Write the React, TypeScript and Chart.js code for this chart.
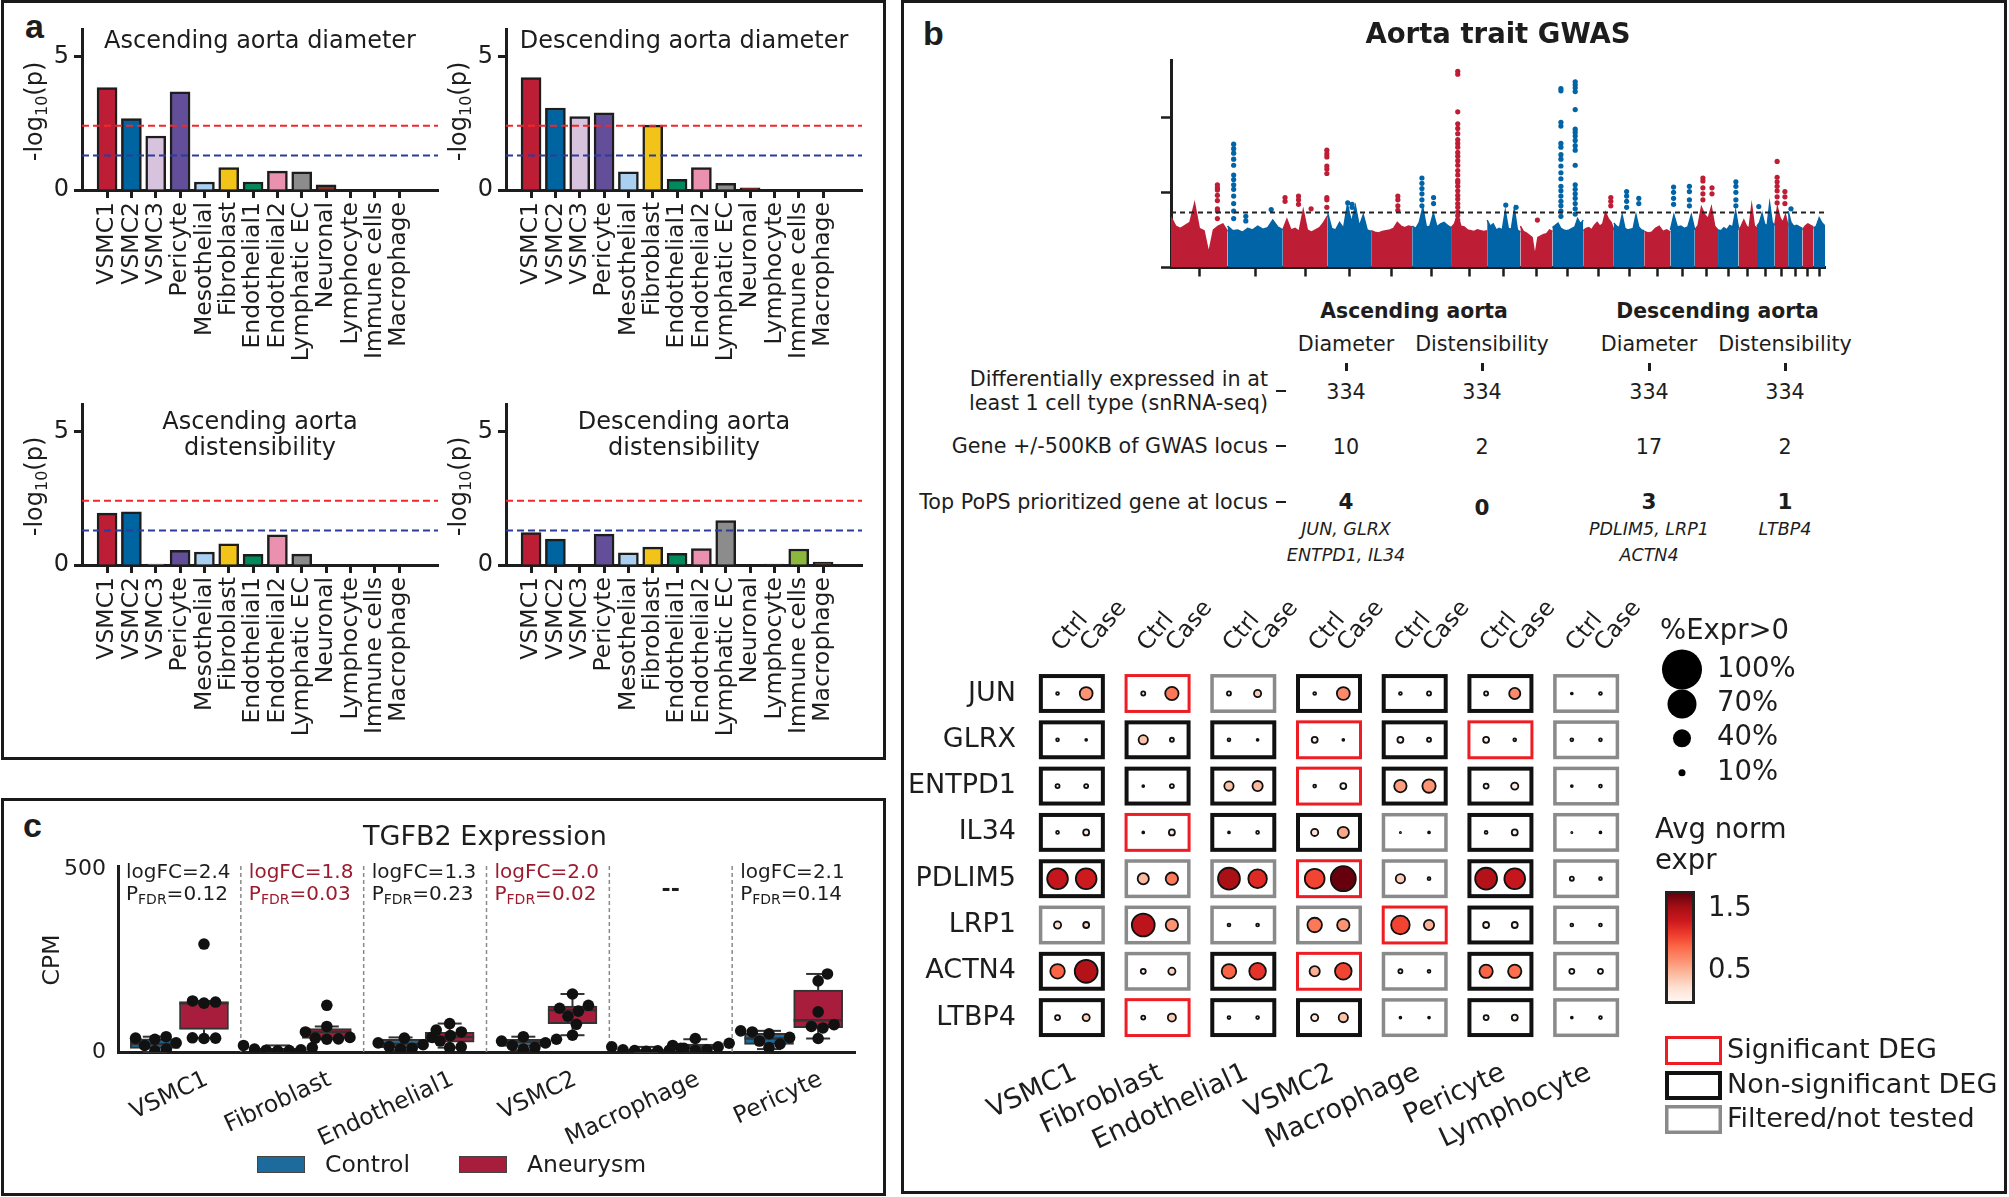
import React, { useEffect, useRef } from 'react';
import { Chart, registerables } from 'chart.js';

Chart.register(...registerables);

const FONT = '"DejaVu Sans", Verdana, sans-serif';
const LETTER_FONT = '"Liberation Sans", Arial, sans-serif';
const INK = '#1d1d1d';
Chart.defaults.font.family = FONT;
Chart.defaults.color = INK;

/* ======================= DATA ======================= */
// ---- Panel a: cell-type enrichment, -log10(p)
const CELL_TYPES = ['VSMC1', 'VSMC2', 'VSMC3', 'Pericyte', 'Mesothelial', 'Fibroblast', 'Endothelial1', 'Endothelial2', 'Lymphatic EC', 'Neuronal', 'Lymphocyte', 'Immune cells', 'Macrophage'];
const CELL_COLORS = ['#BE1E35', '#0064A1', '#D8C3DF', '#634E9A', '#A9D0F0', '#F2C41A', '#00895C', '#E991AE', '#8C8C8C', '#8B2D24', '#4A4A4A', '#8CB83E', '#5A3F2A'];
const ASC_DIAMETER = [3.85, 2.68, 2.03, 3.69, 0.30, 0.84, 0.30, 0.71, 0.68, 0.19, 0, 0, 0];
const DESC_DIAMETER = [4.22, 3.08, 2.76, 2.90, 0.68, 2.44, 0.40, 0.84, 0.25, 0.08, 0, 0, 0];
const ASC_DISTENSIBILITY = [1.95, 2.00, 0.03, 0.55, 0.49, 0.80, 0.40, 1.13, 0.41, 0, 0, 0, 0];
const DESC_DISTENSIBILITY = [1.22, 0.97, 0, 1.16, 0.46, 0.67, 0.44, 0.62, 1.67, 0, 0.03, 0.60, 0.11];
const BONFERRONI_LOGP = 2.41;
const NOMINAL_LOGP = 1.30;
const A_Y_TICKS = [0, 5];

// ---- Panel b: Manhattan plot
const CHR_LENGTHS_MB = [249.3, 243.2, 198.0, 191.2, 180.9, 171.1, 159.1, 146.4, 141.2, 135.5, 135.0, 133.9, 115.2, 107.3, 102.5, 90.4, 81.2, 78.1, 59.1, 63.0, 48.1, 51.3];
const CHR_ENVELOPE = [
  [6.7, 5.5, 5.2, 5.6, 6.0, 8.5, 5.2, 4.9, 1.9, 5.0, 5.5, 5.8, 4.8],
  [5.5, 4.9, 5.0, 4.7, 5.2, 5.0, 5.5, 5.1, 5.3, 6.3, 5.4, 5.0],
  [5.0, 6.4, 5.0, 5.2, 4.8, 7.6, 5.0, 4.7, 5.0, 5.3, 6.0, 6.9],
  [7.2, 5.2, 5.0, 6.0, 5.2, 8.4, 6.0, 8.2, 5.5, 7.0, 5.0, 4.8],
  [4.9, 4.7, 4.6, 4.8, 4.9, 5.0, 5.2, 6.0, 5.5, 5.3, 5.5, 5.4],
  [5.5, 5.2, 6.0, 8.0, 5.4, 5.5, 7.2, 5.4, 5.8, 6.0, 5.6, 5.3],
  [5.3, 5.8, 7.0, 5.5, 5.4, 5.0, 4.9, 4.8, 5.0, 4.9, 4.8, 4.9],
  [6.3, 5.5, 5.8, 5.0, 5.2, 5.0, 7.5, 5.2, 5.1, 7.8, 5.0, 4.7],
  [5.5, 4.8, 4.6, 4.3, 4.0, 1.5, 4.0, 4.2, 4.4, 4.5, 5.0, 4.8],
  [5.3, 5.6, 5.9, 5.2, 5.0, 4.9, 5.0, 5.2, 5.4, 6.5, 5.8, 6.3],
  [4.9, 5.2, 5.3, 5.0, 5.6, 6.0, 5.5, 5.8, 7.3, 6.5, 6.0, 5.0],
  [5.9, 5.5, 5.3, 7.0, 5.2, 5.0, 5.1, 5.2, 7.0, 5.4, 5.0, 4.9],
  [4.8, 4.6, 4.7, 5.2, 5.5, 4.8, 5.0, 4.7],
  [5.0, 7.0, 5.4, 5.5, 5.2, 5.4, 7.0, 5.0],
  [5.0, 5.6, 8.0, 7.0, 6.5, 8.0, 5.5, 5.0],
  [5.0, 4.9, 5.3, 5.0, 5.6, 5.4, 7.5, 5.2],
  [5.0, 5.5, 6.3, 5.5, 5.2, 8.2, 5.5, 5.3],
  [5.5, 6.0, 7.2, 5.8, 5.5, 8.5, 6.0, 5.6],
  [5.6, 8.0, 6.6, 6.0, 7.0, 5.5],
  [7.5, 6.0, 5.5, 5.6, 5.4, 5.2],
  [5.0, 5.5, 5.8, 5.6, 5.4],
  [5.2, 5.5, 6.6, 5.9, 5.5],
];
const GWAS_PEAKS = [
  { chr: 1, pos: 0.82, logp: [11.0, 10.6, 10.3, 9.6, 8.9, 7.8, 7.5, 6.5] },
  { chr: 2, pos: 0.11, logp: [16.4, 15.8, 15.2, 14.4, 13.6, 12.3, 11.7, 11.0, 10.4, 9.5, 8.5, 7.5, 6.5] },
  { chr: 2, pos: 0.33, logp: [6.8, 6.2] },
  { chr: 2, pos: 0.79, logp: [7.7] },
  { chr: 3, pos: 0.05, logp: [9.3, 8.8] },
  { chr: 3, pos: 0.35, logp: [9.5, 9.0, 8.4] },
  { chr: 3, pos: 0.63, logp: [7.8] },
  { chr: 3, pos: 0.98, logp: [15.6, 15.1, 14.7, 13.5, 13.1, 12.5, 9.3, 9.0, 8.0] },
  { chr: 4, pos: 0.46, logp: [8.6] },
  { chr: 4, pos: 0.56, logp: [8.4, 8.0] },
  { chr: 5, pos: 0.65, logp: [9.5, 9.0, 8.2, 7.6] },
  { chr: 6, pos: 0.25, logp: [11.9, 11.2, 10.5, 9.8, 9.0, 8.2] },
  { chr: 6, pos: 0.55, logp: [9.3, 8.5] },
  { chr: 7, pos: 0.185, logp: [26.1, 25.7, 20.7, 19.1, 18.5, 17.8, 17.0, 16.5, 16.0, 15.3, 14.8, 14.2, 13.6, 12.9, 12.3, 11.6, 11.3, 10.8, 10.2, 9.6, 9.1, 8.5, 8.0, 7.4, 6.9, 6.3] },
  { chr: 8, pos: 0.56, logp: [8.3] },
  { chr: 8, pos: 0.87, logp: [8.0] },
  { chr: 9, pos: 0.53, logp: [6.3] },
  { chr: 10, pos: 0.275, logp: [23.8, 23.5, 19.3, 18.8, 16.5, 16.0, 15.0, 14.4, 13.5, 12.6, 11.8, 10.8, 10.2, 9.5, 8.8, 8.2, 7.5, 6.8] },
  { chr: 10, pos: 0.74, logp: [24.7, 24.3, 23.9, 23.4, 21.0, 18.4, 18.0, 17.5, 16.9, 16.2, 15.6, 13.6, 11.0, 10.4, 9.8, 9.2, 8.5, 7.8, 7.1] },
  { chr: 11, pos: 0.90, logp: [9.3, 8.8, 8.2] },
  { chr: 12, pos: 0.42, logp: [10.1, 9.5, 8.8, 8.0] },
  { chr: 12, pos: 0.82, logp: [9.2, 8.5] },
  { chr: 14, pos: 0.13, logp: [10.7, 10.0, 9.2, 8.4] },
  { chr: 14, pos: 0.78, logp: [10.8, 10.1, 9.0, 8.2] },
  { chr: 15, pos: 0.35, logp: [11.9, 11.5, 10.6, 9.8, 9.0] },
  { chr: 15, pos: 0.74, logp: [10.6, 9.8] },
  { chr: 16, pos: 0.87, logp: [11.4, 10.8, 10.0, 9.0, 8.2] },
  { chr: 18, pos: 0.10, logp: [8.1] },
  { chr: 19, pos: 0.18, logp: [14.1, 12.0, 11.4, 10.8, 10.2, 9.4, 8.6] },
  { chr: 19, pos: 0.76, logp: [10.1, 9.4, 8.5] },
  { chr: 20, pos: 0.20, logp: [7.8] },
];
const GWAS_THRESHOLD = 7.3;
const GWAS_Y_TICKS = [0, 10, 20];
const GWAS_Y_MAX = 27.5;

// ---- Panel b: table
const TABLE_GROUPS = ['Ascending aorta', 'Descending aorta'];
const TABLE_TRAITS = ['Diameter', 'Distensibility', 'Diameter', 'Distensibility'];
const TABLE_ROW_LABELS = [['Differentially expressed in at', 'least 1 cell type (snRNA-seq)'], ['Gene +/-500KB of GWAS locus'], ['Top PoPS prioritized gene at locus']];
const DE_GENE_COUNTS = [334, 334, 334, 334];
const LOCUS_GENE_COUNTS = [10, 2, 17, 2];
const POPS_GENE_COUNTS = [4, 0, 3, 1];
const POPS_GENES = [['JUN, GLRX', 'ENTPD1, IL34'], [], ['PDLIM5, LRP1', 'ACTN4'], ['LTBP4']];

// ---- Panel b: dot plot
const DOT_CELLS = ['VSMC1', 'Fibroblast', 'Endothelial1', 'VSMC2', 'Macrophage', 'Pericyte', 'Lymphocyte'];
const DOT_GENES = ['JUN', 'GLRX', 'ENTPD1', 'IL34', 'PDLIM5', 'LRP1', 'ACTN4', 'LTBP4'];
const GROUP_LABELS = ['Ctrl', 'Case'];
const PCT_CTRL = [
  [7, 12, 12, 7, 7, 12, 3],
  [7, 34, 7, 20, 20, 20, 7],
  [12, 3, 34, 7, 47, 16, 3],
  [7, 3, 3, 25, 0, 7, 0],
  [82, 42, 87, 78, 34, 87, 12],
  [25, 91, 7, 56, 73, 20, 7],
  [56, 16, 56, 38, 12, 51, 16],
  [16, 12, 7, 25, 3, 16, 3],
];
const PCT_CASE = [
  [49, 51, 25, 49, 12, 42, 7],
  [3, 12, 3, 3, 12, 7, 7],
  [12, 12, 38, 20, 51, 25, 7],
  [20, 20, 7, 42, 3, 20, 3],
  [82, 47, 73, 100, 7, 82, 7],
  [20, 47, 7, 47, 38, 20, 7],
  [91, 25, 65, 65, 7, 51, 16],
  [25, 29, 7, 34, 3, 20, 7],
];
const EXPR_CTRL = [
  [0.1, 0.1, 0.1, 0.1, 0.1, 0.1, 0.1],
  [0.1, 0.4, 0.1, 0.05, 0.05, 0.05, 0.1],
  [0.1, 0.1, 0.4, 0.1, 0.6, 0.05, 0.1],
  [0.1, 0.1, 0.1, 0.2, 0.1, 0.1, 0.1],
  [1.35, 0.45, 1.5, 1.05, 0.35, 1.45, 0.1],
  [0.2, 1.4, 0.1, 0.8, 1.05, 0.05, 0.1],
  [0.9, 0.05, 0.9, 0.5, 0.1, 0.9, 0.05],
  [0.05, 0.1, 0.1, 0.15, 0.1, 0.05, 0.1],
];
const EXPR_CASE = [
  [0.65, 0.8, 0.35, 0.7, 0.05, 0.7, 0.1],
  [0.1, 0.1, 0.1, 0.1, 0.1, 0.1, 0.1],
  [0.1, 0.1, 0.45, 0.05, 0.65, 0.1, 0.1],
  [0.1, 0.1, 0.1, 0.55, 0.1, 0.05, 0.1],
  [1.3, 0.8, 1.2, 1.75, 0.1, 1.35, 0.1],
  [0.3, 0.65, 0.1, 0.65, 0.5, 0.05, 0.1],
  [1.45, 0.3, 1.15, 1.05, 0.1, 0.85, 0.05],
  [0.3, 0.35, 0.1, 0.4, 0.1, 0.1, 0.1],
];
// S = significant DEG, N = non-significant DEG, F = filtered / not tested
const DEG_STATUS = [
  ['N', 'S', 'F', 'N', 'N', 'N', 'F'],
  ['N', 'N', 'N', 'S', 'N', 'S', 'F'],
  ['N', 'N', 'N', 'S', 'N', 'N', 'F'],
  ['N', 'S', 'N', 'N', 'F', 'N', 'F'],
  ['N', 'F', 'F', 'S', 'F', 'N', 'F'],
  ['F', 'F', 'F', 'F', 'S', 'N', 'F'],
  ['N', 'F', 'N', 'S', 'F', 'N', 'F'],
  ['N', 'S', 'N', 'N', 'F', 'N', 'F'],
];
const SIZE_LEGEND_PCTS = [100, 70, 40, 10];
const COLORBAR_TICKS = [1.5, 0.5];
const EXPR_MAX = 1.75;
const STATUS_LEGEND = [['S', 'Significant DEG'], ['N', 'Non-significant DEG'], ['F', 'Filtered/not tested']];

// ---- Panel c: TGFB2 box plots (CPM)
const BOX_GROUPS = ['VSMC1', 'Fibroblast', 'Endothelial1', 'VSMC2', 'Macrophage', 'Pericyte'];
const CTRL_Q1 = [10, 4, 12, 15, 2, 21];
const CTRL_MED = [22, 6, 22, 28, 4, 37];
const CTRL_Q3 = [36, 10, 35, 35, 6, 51];
const CTRL_LO = [0, 2, 5, 5, 0, 8];
const CTRL_HI = [42, 18, 40, 42, 14, 58];
const CTRL_POINTS = [[42, 38, 35, 25, 18, 8, 3], [18, 12, 8, 6, 5, 4, 3], [40, 38, 25, 20, 15, 10, 8], [42, 35, 30, 25, 18, 12, 8], [14, 10, 6, 5, 4, 3, 2], [58, 55, 50, 40, 30, 22, 12]];
const ANEU_Q1 = [62, 37, 27, 78, 8, 67];
const ANEU_MED = [134, 55, 41, 115, 14, 87];
const ANEU_Q3 = [138, 64, 54, 126, 22, 170];
const ANEU_LO = [38, 35, 12, 46, 2, 37];
const ANEU_HI = [140, 70, 78, 159, 35, 214];
const ANEU_POINTS = [[296, 140, 137, 134, 39, 38, 37], [128, 70, 55, 40, 38, 36, 35], [78, 60, 55, 45, 30, 14, 12], [159, 128, 120, 112, 98, 76, 46], [37, 24, 18, 14, 10, 6, 4], [214, 195, 110, 75, 70, 66, 37]];
const LOGFC = ['2.4', '1.8', '1.3', '2.0', null, '2.1'];
const PFDR = ['0.12', '0.03', '0.23', '0.02', null, '0.14'];
const FDR_SIGNIFICANT = [false, true, false, true, false, false];
const C_Y_TICKS = [0, 500];
const C_Y_MAX = 510;

/* ======================= HELPERS ======================= */
const REDS = ['#fff5f0', '#fee0d2', '#fcbba1', '#fc9272', '#fb6a4a', '#ef3b2c', '#cb181d', '#a50f15', '#67000d'];
function hexToRgb(h: string) { return [parseInt(h.slice(1, 3), 16), parseInt(h.slice(3, 5), 16), parseInt(h.slice(5, 7), 16)]; }
function reds(v: number) {
  const t = Math.max(0, Math.min(1, v / EXPR_MAX)) * (REDS.length - 1);
  const i = Math.min(REDS.length - 2, Math.floor(t));
  const f = t - i;
  const a = hexToRgb(REDS[i]), b = hexToRgb(REDS[i + 1]);
  const c = a.map((x, k) => Math.round(x + (b[k] - x) * f));
  return `rgb(${c[0]},${c[1]},${c[2]})`;
}
const pctToRadius = (p: number) => 0.6 + 0.119 * p;
const legendPctToRadius = (p: number) => 1.7 + 0.183 * p;

function swarm(values: number[], pxPerUnit: number, diam: number) {
  const order = values.map((_, i) => i).sort((a, b) => values[a] - values[b]);
  const placed: { x: number; y: number }[] = [];
  const res = new Array(values.length).fill(0);
  for (const idx of order) {
    const y = values[idx] * pxPerUnit;
    const cands = [0];
    for (const p of placed) {
      const dy = Math.abs(p.y - y);
      if (dy < diam) {
        const dx = Math.sqrt(diam * diam - dy * dy);
        cands.push(p.x + dx + 0.01, p.x - dx - 0.01);
      }
    }
    cands.sort((a, b) => Math.abs(a) - Math.abs(b));
    let chosen = 0;
    for (const c of cands) {
      if (placed.every((p) => Math.hypot(p.x - c, p.y - y) >= diam - 0.001)) { chosen = c; break; }
    }
    placed.push({ x: chosen, y });
    res[idx] = chosen;
  }
  return res;
}

function drawParts(ctx: any, parts: { t: string; sub?: boolean }[], x: number, y: number, size: number, subSize: number, align: string) {
  const big = `${size}px ${FONT}`, small = `${subSize}px ${FONT}`;
  let total = 0;
  parts.forEach((p) => { ctx.font = p.sub ? small : big; total += ctx.measureText(p.t).width; });
  let cx = align === 'center' ? x - total / 2 : x;
  ctx.textAlign = 'left';
  ctx.textBaseline = 'middle';
  parts.forEach((p) => {
    ctx.font = p.sub ? small : big;
    ctx.fillText(p.t, cx, p.sub ? y + size * 0.28 : y);
    cx += ctx.measureText(p.t).width;
  });
}

function drawLogTitle(ctx: any, x: number, y: number) {
  ctx.save();
  ctx.translate(x, y);
  ctx.rotate(-Math.PI / 2);
  ctx.fillStyle = INK;
  drawParts(ctx, [{ t: '-log' }, { t: '10', sub: true }, { t: '(p)' }], 0, 0, 24, 16, 'center');
  ctx.restore();
}

/* ======================= CONFIGS ======================= */
const A_X_MIN = -1.03, A_X_MAX = 13.6, A_Y_MAX = 6.05;

function barConfig(values: number[], titleLines: string[], titleOffsets: number[]) {
  const thr = (v: number, color: string) => ({
    type: 'line', data: [{ x: A_X_MIN, y: v }, { x: A_X_MAX, y: v }],
    borderColor: color, borderWidth: 2, borderDash: [7, 4], pointRadius: 0, order: 0,
  });
  const axisGrid = { drawOnChartArea: false, offset: false, tickLength: 8, tickWidth: 3, tickColor: INK };
  return {
    type: 'bar',
    data: {
      datasets: [
        thr(BONFERRONI_LOGP, '#F0282C'),
        thr(NOMINAL_LOGP, '#2B3C9C'),
        { type: 'bar', data: values.map((v, i) => ({ x: i, y: v })), backgroundColor: CELL_COLORS, borderColor: INK, borderWidth: 2.5, barThickness: 20, order: 1 },
      ],
    },
    options: {
      responsive: false, animation: false, devicePixelRatio: 1, events: [],
      layout: { padding: { top: 29, right: 12, left: 0, bottom: 0 } },
      plugins: { legend: { display: false }, tooltip: { enabled: false } },
      scales: {
        x: {
          type: 'linear', min: A_X_MIN, max: A_X_MAX, offset: false,
          afterFit: (s: any) => { s.height = 190; },
          afterBuildTicks: (s: any) => { s.ticks = CELL_TYPES.map((_, i) => ({ value: i })); },
          ticks: { autoSkip: false, minRotation: 90, maxRotation: 90, padding: 4, font: { size: 23.5 }, color: INK, callback: (v: any) => CELL_TYPES[v] ?? '' },
          grid: axisGrid, border: { width: 3, color: INK },
        },
        y: {
          min: 0, max: A_Y_MAX,
          afterFit: (s: any) => { s.width = 82; },
          afterBuildTicks: (s: any) => { s.ticks = A_Y_TICKS.map((v) => ({ value: v })); },
          ticks: { padding: 5, font: { size: 24 }, color: INK },
          grid: axisGrid, border: { width: 3, color: INK },
        },
      },
    },
    plugins: [{
      id: 'panelText',
      afterDraw(chart: any) {
        const { ctx, chartArea, scales } = chart;
        ctx.save();
        ctx.fillStyle = INK;
        ctx.font = `24px ${FONT}`;
        ctx.textAlign = 'center';
        ctx.textBaseline = 'middle';
        const cx = (chartArea.left + chartArea.right) / 2;
        titleLines.forEach((t, i) => ctx.fillText(t, cx, chartArea.top + titleOffsets[i]));
        ctx.restore();
        drawLogTitle(ctx, chartArea.left - 46, scales.y.getPixelForValue(2.95));
      },
    }],
  };
}

function manhattanConfig() {
  const starts: number[] = [];
  let acc = 0;
  CHR_LENGTHS_MB.forEach((l) => { starts.push(acc); acc += l; });
  const total = acc;
  const RED = '#BE1E35', BLUE = '#0064A6';
  const colorOf = (k: number) => (k % 2 === 0 ? RED : BLUE);
  const areaSets = CHR_ENVELOPE.map((env, k) => ({
    type: 'line',
    data: env.map((v, j) => ({ x: starts[k] + CHR_LENGTHS_MB[k] * (j / (env.length - 1)), y: v })),
    fill: 'origin', borderColor: colorOf(k), backgroundColor: colorOf(k), borderWidth: 1.5, pointRadius: 0, tension: 0, order: 3,
  }));
  const peakPts: any[] = [];
  const peakCols: string[] = [];
  GWAS_PEAKS.forEach((p) => {
    const k = p.chr - 1;
    p.logp.forEach((v) => { peakPts.push({ x: starts[k] + CHR_LENGTHS_MB[k] * p.pos, y: v }); peakCols.push(colorOf(k)); });
  });
  const grid = { drawOnChartArea: false, tickLength: 9, tickWidth: 2.5, tickColor: INK };
  return {
    type: 'line',
    data: {
      datasets: [
        { type: 'line', data: [{ x: 0, y: GWAS_THRESHOLD }, { x: total, y: GWAS_THRESHOLD }], borderColor: '#222', borderWidth: 2, borderDash: [5, 4], pointRadius: 0, order: 0 },
        { type: 'scatter', data: peakPts, pointRadius: 2.6, pointBackgroundColor: peakCols, pointBorderWidth: 0, showLine: false, order: 1 },
        ...areaSets,
      ],
    },
    options: {
      responsive: false, animation: false, devicePixelRatio: 1, events: [],
      layout: { padding: { top: 60.7, right: 15, left: 0, bottom: 0 } },
      plugins: { legend: { display: false }, tooltip: { enabled: false } },
      scales: {
        x: {
          type: 'linear', min: 0, max: total,
          afterFit: (s: any) => { s.height = 22.5; },
          afterBuildTicks: (s: any) => { s.ticks = starts.map((st, k) => ({ value: st + CHR_LENGTHS_MB[k] / 2 })); },
          ticks: { display: false }, grid, border: { width: 3, color: INK },
        },
        y: {
          min: 0, max: GWAS_Y_MAX,
          afterFit: (s: any) => { s.width = 71; },
          afterBuildTicks: (s: any) => { s.ticks = GWAS_Y_TICKS.map((v) => ({ value: v })); },
          ticks: { display: false }, grid: { ...grid, tickLength: 10 }, border: { width: 3, color: INK },
        },
      },
    },
    plugins: [{
      id: 'gwasTitle',
      afterDraw(chart: any) {
        const { ctx, chartArea } = chart;
        ctx.save();
        ctx.fillStyle = INK;
        ctx.font = `bold 27.5px ${FONT}`;
        ctx.textAlign = 'center';
        ctx.textBaseline = 'middle';
        ctx.fillText('Aorta trait GWAS', (chartArea.left + chartArea.right) / 2, 36);
        ctx.restore();
      },
    }],
  };
}

const BOX_SHIFT = 0.2;
const BOX_DOT_R = 5.8;
function boxConfig() {
  const pxPerCpm = 186 / C_Y_MAX;
  const pxPerGroup = 737 / BOX_GROUPS.length;
  const pts: any[] = [];
  BOX_GROUPS.forEach((_, i) => {
    ([[CTRL_POINTS[i], i - BOX_SHIFT], [ANEU_POINTS[i], i + BOX_SHIFT]] as any[]).forEach(([vals, cx]) => {
      const offs = swarm(vals, pxPerCpm, BOX_DOT_R * 2);
      vals.forEach((v: number, k: number) => pts.push({ x: cx + offs[k] / pxPerGroup, y: v }));
    });
  });
  const boxSet = (q1: number[], q3: number[], shift: number, color: string) => ({
    type: 'bar', data: q1.map((v, i) => ({ x: i + shift, y: [v, q3[i]] })),
    backgroundColor: color, borderColor: '#333', borderWidth: 2, borderSkipped: false, barThickness: 49, grouped: false, order: 2,
  });
  const stats = [
    { q1: CTRL_Q1, med: CTRL_MED, q3: CTRL_Q3, lo: CTRL_LO, hi: CTRL_HI, shift: -BOX_SHIFT },
    { q1: ANEU_Q1, med: ANEU_MED, q3: ANEU_Q3, lo: ANEU_LO, hi: ANEU_HI, shift: BOX_SHIFT },
  ];
  return {
    type: 'bar',
    data: {
      datasets: [
        boxSet(CTRL_Q1, CTRL_Q3, -BOX_SHIFT, '#1C6B9C'),
        boxSet(ANEU_Q1, ANEU_Q3, BOX_SHIFT, '#A71D3B'),
        { type: 'scatter', data: pts, pointRadius: BOX_DOT_R, pointBackgroundColor: '#111', pointBorderWidth: 0, order: 0 },
      ],
    },
    options: {
      responsive: false, animation: false, devicePixelRatio: 1, events: [],
      layout: { padding: { top: 66, right: 29, left: 0, bottom: 0 } },
      plugins: { legend: { display: false }, tooltip: { enabled: false } },
      scales: {
        x: {
          type: 'linear', min: -0.5, max: BOX_GROUPS.length - 0.5, offset: false,
          afterFit: (s: any) => { s.height = 143; },
          ticks: { display: false }, grid: { display: false, drawTicks: false, offset: false }, border: { width: 3, color: INK },
        },
        y: {
          min: 0, max: C_Y_MAX,
          afterFit: (s: any) => { s.width = 118; },
          afterBuildTicks: (s: any) => { s.ticks = C_Y_TICKS.map((v) => ({ value: v })); },
          ticks: { padding: 12, font: { size: 22 }, color: INK },
          grid: { display: false, drawTicks: false }, border: { width: 3, color: INK },
        },
      },
    },
    plugins: [{
      id: 'boxExtras',
      beforeDatasetsDraw(chart: any) {
        const { ctx, chartArea, scales: { x } } = chart;
        ctx.save();
        ctx.strokeStyle = '#8a8a8a';
        ctx.lineWidth = 1.5;
        ctx.setLineDash([4, 3]);
        for (let i = 0; i < BOX_GROUPS.length - 1; i++) {
          const px = x.getPixelForValue(i + 0.5);
          ctx.beginPath(); ctx.moveTo(px, chartArea.top); ctx.lineTo(px, chartArea.bottom); ctx.stroke();
        }
        ctx.restore();
      },
      beforeDatasetDraw(chart: any, args: any) {
        if (args.index !== 2) return;
        const { ctx, scales: { x, y } } = chart;
        ctx.save();
        ctx.strokeStyle = '#333';
        ctx.lineWidth = 2;
        const seg = (x1: number, y1: number, x2: number, y2: number) => { ctx.beginPath(); ctx.moveTo(x1, y1); ctx.lineTo(x2, y2); ctx.stroke(); };
        stats.forEach((s) => {
          BOX_GROUPS.forEach((_, i) => {
            const cx = x.getPixelForValue(i + s.shift);
            const cap = 12, half = 24.5;
            seg(cx, y.getPixelForValue(s.q3[i]), cx, y.getPixelForValue(s.hi[i]));
            seg(cx - cap, y.getPixelForValue(s.hi[i]), cx + cap, y.getPixelForValue(s.hi[i]));
            seg(cx, y.getPixelForValue(s.q1[i]), cx, y.getPixelForValue(s.lo[i]));
            seg(cx - cap, y.getPixelForValue(s.lo[i]), cx + cap, y.getPixelForValue(s.lo[i]));
            ctx.lineWidth = 2.5;
            seg(cx - half, y.getPixelForValue(s.med[i]), cx + half, y.getPixelForValue(s.med[i]));
            ctx.lineWidth = 2;
          });
        });
        ctx.restore();
      },
      afterDraw(chart: any) {
        const { ctx, chartArea, scales: { x } } = chart;
        ctx.save();
        ctx.fillStyle = INK;
        ctx.font = `27px ${FONT}`;
        ctx.textAlign = 'center';
        ctx.textBaseline = 'middle';
        ctx.fillText('TGFB2 Expression', 485, 38);
        ctx.save();
        ctx.translate(53, 160);
        ctx.rotate(-Math.PI / 2);
        ctx.font = `23.5px ${FONT}`;
        ctx.fillText('CPM', 0, 0);
        ctx.restore();
        BOX_GROUPS.forEach((_, i) => {
          const left = x.getPixelForValue(i - 0.5) + 8;
          if (LOGFC[i] === null) {
            ctx.fillStyle = INK;
            ctx.font = `bold 22px ${FONT}`;
            ctx.textAlign = 'center';
            ctx.textBaseline = 'middle';
            ctx.fillText('--', x.getPixelForValue(i), chartArea.top + 24);
            return;
          }
          ctx.fillStyle = FDR_SIGNIFICANT[i] ? '#9C1B2E' : INK;
          drawParts(ctx, [{ t: `logFC=${LOGFC[i]}` }], left, chartArea.top + 7, 20, 14, 'left');
          drawParts(ctx, [{ t: 'P' }, { t: 'FDR', sub: true }, { t: `=${PFDR[i]}` }], left, chartArea.top + 29, 20, 14, 'left');
        });
        ctx.fillStyle = INK;
        ctx.font = `23.5px ${FONT}`;
        ctx.textAlign = 'right';
        ctx.textBaseline = 'alphabetic';
        BOX_GROUPS.forEach((g, i) => {
          ctx.save();
          ctx.translate(x.getPixelForValue(i) + 30, 284);
          ctx.rotate(-25 * Math.PI / 180);
          ctx.fillText(g, 0, 0);
          ctx.restore();
        });
        ctx.restore();
      },
    }],
  };
}

const DOT_OX = 903, DOT_OY = 580;
const CASE_SHIFT = 0.167;
function dotConfig() {
  const data: any[] = [];
  const fills: string[] = [];
  DOT_GENES.forEach((_, r) => DOT_CELLS.forEach((__, c) => {
    data.push({ x: c - CASE_SHIFT, y: r, r: pctToRadius(PCT_CTRL[r][c]) }); fills.push(reds(EXPR_CTRL[r][c]));
    data.push({ x: c + CASE_SHIFT, y: r, r: pctToRadius(PCT_CASE[r][c]) }); fills.push(reds(EXPR_CASE[r][c]));
  }));
  const statusColor: any = { S: '#EE1D24', N: '#111111', F: '#8A8A8A' };
  const statusWidth: any = { S: 3, N: 4, F: 3.5 };
  return {
    type: 'bubble',
    data: { datasets: [{ data, backgroundColor: fills, borderColor: '#111', borderWidth: 1.8 }] },
    options: {
      responsive: false, animation: false, devicePixelRatio: 1, events: [],
      layout: { autoPadding: false, padding: { left: 126, right: 374, top: 90.35, bottom: 151.25 } },
      plugins: { legend: { display: false }, tooltip: { enabled: false } },
      scales: {
        x: { type: 'linear', display: false, min: -0.5, max: DOT_CELLS.length - 0.5 },
        y: { type: 'linear', display: false, min: -0.5, max: DOT_GENES.length - 0.5, reverse: true },
      },
    },
    plugins: [{
      id: 'dotExtras',
      beforeDatasetsDraw(chart: any) {
        const { ctx, scales: { x, y } } = chart;
        const cw = (x.getPixelForValue(1) - x.getPixelForValue(0)) * 0.77;
        const ch = (y.getPixelForValue(1) - y.getPixelForValue(0)) * 0.84;
        ctx.save();
        DOT_GENES.forEach((_, r) => DOT_CELLS.forEach((__, c) => {
          const st = DEG_STATUS[r][c];
          const w = statusWidth[st];
          ctx.strokeStyle = statusColor[st];
          ctx.lineWidth = w;
          const cx = x.getPixelForValue(c), cy = y.getPixelForValue(r);
          ctx.strokeRect(cx - cw / 2 + w / 2, cy - ch / 2 + w / 2, cw - w, ch - w);
        }));
        ctx.restore();
      },
      afterDraw(chart: any) {
        const { ctx, scales: { x, y } } = chart;
        ctx.save();
        ctx.fillStyle = INK;
        ctx.font = `27px ${FONT}`;
        ctx.textAlign = 'right';
        ctx.textBaseline = 'middle';
        DOT_GENES.forEach((g, r) => ctx.fillText(g, 1016 - DOT_OX, y.getPixelForValue(r)));
        ctx.font = `23.5px ${FONT}`;
        ctx.textAlign = 'left';
        ctx.textBaseline = 'alphabetic';
        DOT_CELLS.forEach((_, c) => {
          GROUP_LABELS.forEach((lab, k) => {
            ctx.save();
            ctx.translate(x.getPixelForValue(c + (k === 0 ? -CASE_SHIFT : CASE_SHIFT)) + 4, 652 - DOT_OY);
            ctx.rotate(-50 * Math.PI / 180);
            ctx.fillText(lab, 0, 0);
            ctx.restore();
          });
        });
        ctx.font = `27px ${FONT}`;
        ctx.textAlign = 'right';
        DOT_CELLS.forEach((cell, c) => {
          ctx.save();
          ctx.translate(x.getPixelForValue(c) + 6.5, 1078 - DOT_OY);
          ctx.rotate(-25 * Math.PI / 180);
          ctx.fillText(cell, 0, 0);
          ctx.restore();
        });
        ctx.textAlign = 'left';
        ctx.textBaseline = 'middle';
        ctx.font = `27.5px ${FONT}`;
        ctx.fillText('%Expr>0', 1660 - DOT_OX, 632 - DOT_OY);
        SIZE_LEGEND_PCTS.forEach((p, k) => {
          const cy = 669.5 - DOT_OY + k * 34.4;
          ctx.beginPath();
          ctx.arc(1682 - DOT_OX, cy, legendPctToRadius(p), 0, Math.PI * 2);
          ctx.fillStyle = '#000';
          ctx.fill();
          ctx.fillStyle = INK;
          ctx.fillText(`${p}%`, 1717 - DOT_OX, cy);
        });
        ctx.fillText('Avg norm', 1655 - DOT_OX, 831 - DOT_OY);
        ctx.fillText('expr', 1655 - DOT_OX, 862 - DOT_OY);
        const bx = 1665 - DOT_OX, bTop = 891 - DOT_OY, bw = 30, bh = 113;
        const inTop = bTop + 3, inBot = bTop + bh - 3;
        const grad = ctx.createLinearGradient(0, inBot, 0, inTop);
        for (let k = 0; k <= 16; k++) grad.addColorStop(k / 16, reds((k / 16) * EXPR_MAX));
        ctx.fillStyle = grad;
        ctx.fillRect(bx + 3, inTop, bw - 6, inBot - inTop);
        ctx.strokeStyle = '#222';
        ctx.lineWidth = 3;
        ctx.strokeRect(bx + 1.5, bTop + 1.5, bw - 3, bh - 3);
        ctx.fillStyle = INK;
        COLORBAR_TICKS.forEach((v) => ctx.fillText(v.toFixed(1), 1708 - DOT_OX, inBot - (v / EXPR_MAX) * (inBot - inTop)));
        ctx.font = `27px ${FONT}`;
        STATUS_LEGEND.forEach(([st, lab], k) => {
          const top = [1036, 1071, 1105][k] - DOT_OY;
          const w = statusWidth[st];
          ctx.strokeStyle = statusColor[st];
          ctx.lineWidth = w;
          ctx.strokeRect(1665 - DOT_OX + w / 2, top + w / 2, 57 - w, 29 - w);
          ctx.fillStyle = INK;
          ctx.fillText(lab, 1727 - DOT_OX, top + 15);
        });
        ctx.restore();
      },
    }],
  };
}

/* ======================= COMPONENTS ======================= */
function ChartCanvas({ left, top, width, height, make }: any) {
  const ref = useRef<HTMLCanvasElement>(null);
  useEffect(() => {
    const chart = new Chart(ref.current as any, make());
    return () => chart.destroy();
  }, []);
  return <canvas ref={ref} width={width} height={height} style={{ position: 'absolute', left, top, width, height }} />;
}

function Txt({ x, y, children, align = 'left', size = 20, weight = 'normal', italic = false, color = INK, family = FONT }: any) {
  const tx = align === 'left' ? '0' : align === 'center' ? '-50%' : '-100%';
  return (
    <div style={{ position: 'absolute', left: x, top: y, transform: `translate(${tx}, -50%)`, fontSize: size, fontWeight: weight, fontStyle: italic ? 'italic' : 'normal', color, fontFamily: family, lineHeight: 1, whiteSpace: 'nowrap' }}>
      {children}
    </div>
  );
}

function Frame({ x, y, w, h }: any) {
  return <div style={{ position: 'absolute', left: x, top: y, width: w, height: h, border: '3px solid #1a1a1a', boxSizing: 'border-box' }} />;
}

function Rule({ x, y, w, h }: any) {
  return <div style={{ position: 'absolute', left: x, top: y, width: w, height: h, background: INK }} />;
}

export default function App() {
  const colX = [1346, 1482, 1649, 1785];
  const groupX = [1414, 1717.6];
  const TS = 20.7;
  return (
    <div style={{ position: 'fixed', left: 0, top: 0, width: 2009, height: 1197, background: '#fff', overflow: 'hidden', fontFamily: FONT }}>
      <Frame x={1} y={0} w={885} h={760} />
      <Frame x={1} y={798} w={885} h={398} />
      <Frame x={901} y={0} w={1106} h={1194} />

      <Txt x={25} y={26} size={34} weight="bold" family={LETTER_FONT}>a</Txt>
      <Txt x={923} y={33} size={34} weight="bold" family={LETTER_FONT}>b</Txt>
      <Txt x={23} y={825} size={34} weight="bold" family={LETTER_FONT}>c</Txt>

      {/* Panel a */}
      <ChartCanvas left={0} top={0} width={450} height={380} make={() => barConfig(ASC_DIAMETER, ['Ascending aorta diameter'], [13])} />
      <ChartCanvas left={424} top={0} width={450} height={380} make={() => barConfig(DESC_DIAMETER, ['Descending aorta diameter'], [13])} />
      <ChartCanvas left={0} top={375} width={450} height={380} make={() => barConfig(ASC_DISTENSIBILITY, ['Ascending aorta', 'distensibility'], [19, 45])} />
      <ChartCanvas left={424} top={375} width={450} height={380} make={() => barConfig(DESC_DISTENSIBILITY, ['Descending aorta', 'distensibility'], [19, 45])} />

      {/* Panel b: Manhattan */}
      <ChartCanvas left={1100} top={0} width={740} height={290} make={manhattanConfig} />

      {/* Panel b: table */}
      {TABLE_GROUPS.map((g, i) => <Txt key={g} x={groupX[i]} y={311} align="center" size={20.4} weight="bold">{g}</Txt>)}
      {TABLE_TRAITS.map((t, i) => <Txt key={'t' + i} x={colX[i]} y={344} align="center" size={TS}>{t}</Txt>)}
      {colX.map((cx, i) => <Rule key={'v' + i} x={cx - 1} y={363} w={2.5} h={8} />)}
      <Txt x={1268} y={379} align="right" size={TS}>{TABLE_ROW_LABELS[0][0]}</Txt>
      <Txt x={1268} y={403} align="right" size={TS}>{TABLE_ROW_LABELS[0][1]}</Txt>
      <Txt x={1268} y={446} align="right" size={TS}>{TABLE_ROW_LABELS[1][0]}</Txt>
      <Txt x={1268} y={502} align="right" size={TS}>{TABLE_ROW_LABELS[2][0]}</Txt>
      {[391, 446, 502].map((y) => <Rule key={'h' + y} x={1276} y={y - 1.2} w={10} h={2.5} />)}
      {DE_GENE_COUNTS.map((v, i) => <Txt key={'de' + i} x={colX[i]} y={392} align="center" size={TS}>{v}</Txt>)}
      {LOCUS_GENE_COUNTS.map((v, i) => <Txt key={'lc' + i} x={colX[i]} y={447} align="center" size={TS}>{v}</Txt>)}
      {POPS_GENE_COUNTS.map((v, i) => <Txt key={'pp' + i} x={colX[i]} y={POPS_GENES[i].length ? 502 : 508} align="center" size={21.5} weight="bold">{v}</Txt>)}
      {POPS_GENES.map((lines, i) => lines.map((l, k) => <Txt key={'pg' + i + k} x={colX[i]} y={530 + k * 26} align="center" size={17.5} italic>{l}</Txt>))}

      {/* Panel b: dot plot + legends */}
      <ChartCanvas left={DOT_OX} top={DOT_OY} width={1100} height={612} make={dotConfig} />

      {/* Panel c */}
      <ChartCanvas left={0} top={800} width={884} height={395} make={boxConfig} />
      <div style={{ position: 'absolute', left: 257, top: 1156, width: 48, height: 17, background: '#1C6B9C', border: '1px solid #444', boxSizing: 'border-box' }} />
      <Txt x={325} y={1165} size={23.5}>Control</Txt>
      <div style={{ position: 'absolute', left: 459, top: 1156, width: 48, height: 17, background: '#A71D3B', border: '1px solid #444', boxSizing: 'border-box' }} />
      <Txt x={527} y={1165} size={23.5}>Aneurysm</Txt>
    </div>
  );
}
